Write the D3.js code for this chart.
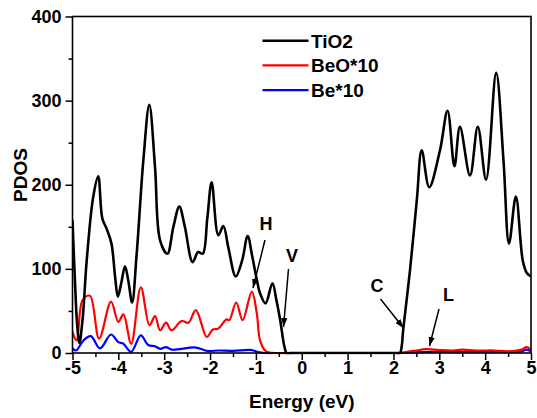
<!DOCTYPE html>
<html><head><meta charset="utf-8">
<script src="https://cdn.jsdelivr.net/npm/d3@7"></script>
<style>body{margin:0;background:#fff}svg{display:block}text{font-family:"Liberation Sans",Arial,sans-serif;font-weight:bold}</style>
</head><body><svg id="c" width="537" height="418"></svg>
<script>
// TiO2 PDOS
const eTiO2 = [-5,-4.95,-4.9,-4.85,-4.78,-4.69,-4.55,-4.44,-4.35,-4.25,-4.15,-4.07,-4.01,-3.93,-3.855,-3.78,-3.70,-3.60,-3.455,-3.325,-3.2,-3.09,-2.93,-2.8,-2.67,-2.55,-2.38,-2.26,-2.16,-2.06,-1.965,-1.82,-1.71,-1.6,-1.44,-1.3,-1.18,-1.08,-0.98,-0.91,-0.79,-0.64,-0.55,-0.47,-0.38,-0.33,-0.25,0,1,2,2.1,2.143,2.18,2.215,2.36,2.51,2.616,2.78,3.015,3.18,3.33,3.45,3.67,3.84,4.02,4.24,4.40,4.52,4.67,4.82,4.91,5];
const vTiO2 = [158,90,35,12,40,110,185,210,160,147,130,90,67,85,103,85,60,118,229,295,221,134,118,150,174,150,108,120,118,160,203,140,151,125,91,110,139,115,87,71,59,83,62,39,8,0,0,0,0,0,0,0,8,29,98,182,241,197,241,288,222,269,211,269,206,333,229,130,186,110,95,91];
// BeO*10 PDOS
const eBeO = [-5,-4.91,-4.78,-4.62,-4.42,-4.16,-4.0,-3.89,-3.72,-3.51,-3.32,-3.20,-3.09,-2.96,-2.84,-2.62,-2.47,-2.31,-2.07,-1.94,-1.82,-1.64,-1.58,-1.43,-1.29,-1.09,-0.98,-0.91,-0.80,-0.7,-0.6,0,1,2,2.143,2.3,2.5,2.7,3.0,3.3,3.5,3.8,4.2,4.5,4.8,4.9,5];
const vBeO = [25,15,63,68,17,61,37,46,11,78,33,44,27,36,27,38,36,51,19,28,29,40,39,60,39,73,47,15,3,0.5,0,0,0,0,0,1.5,3,4.5,3.5,3,4,3,3,2,4,7,4];
// Be*10 PDOS
const eBe = [-5,-4.92,-4.76,-4.60,-4.40,-4.16,-4.0,-3.89,-3.72,-3.51,-3.35,-3.20,-3.09,-2.96,-2.84,-2.31,-2.07,-1.8,-1.5,-1.09,-0.95,-0.8,-0.6,0,1,2,2.143,2.5,3,4,4.8,4.9,5];
const vBe = [5.5,3,15,20,5.5,22,13,11,1.5,21,9.5,8,5,7,4,6.5,2.5,3,2.5,3.5,1,0,0,0,0,0,0,1,1.5,1.5,2,4,2];

const xTicks = [-5,-4,-3,-2,-1,0,1,2,3,4,5];
const yTicks = [0,100,200,300,400];
const seriesNames = ["TiO2","BeO*10","Be*10"];
const seriesColors = ["#000000","#ff0000","#0000ff"];
const annotations = [
  {label:"H", tx:266, ty:224, x1:265, y1:240, x2:253, y2:288},
  {label:"V", tx:292, ty:256, x1:288.5, y1:269, x2:283.5, y2:327},
  {label:"C", tx:377, ty:286, x1:380.5, y1:299, x2:403.5, y2:328},
  {label:"L", tx:448.5, ty:295, x1:439, y1:309, x2:429.5, y2:346}
];

const svg = d3.select("#c");
const L=72.5, R=531, T=16.5, B=353;
const x = d3.scaleLinear().domain([-5,5]).range([L,R]);
const y = d3.scaleLinear().domain([0,400]).range([B,T]);

svg.append("defs").append("clipPath").attr("id","clip").append("rect")
  .attr("x",L).attr("y",T).attr("width",R-L).attr("height",B-T+1.5);
const mk = svg.select("defs").append("marker").attr("id","arr")
  .attr("viewBox","0 0 10 10").attr("refX",10).attr("refY",5)
  .attr("markerWidth",9).attr("markerHeight",9).attr("markerUnits","userSpaceOnUse")
  .attr("orient","auto");
mk.append("path").attr("d","M0,1.5 L10,5 L0,8.5 Z").attr("fill","#000");

const line = d3.line().x(d=>x(d[0])).y(d=>Math.min(B,y(d[1]))).curve(d3.curveCatmullRom.alpha(0.5));
const data = [d3.zip(eTiO2,vTiO2), d3.zip(eBeO,vBeO), d3.zip(eBe,vBe)];
const g = svg.append("g").attr("clip-path","url(#clip)");
[2,1,0].forEach(i=>{
  g.append("path").attr("d",line(data[i])).attr("fill","none")
   .attr("stroke",seriesColors[i]).attr("stroke-width", i===0?2.6:2.2).attr("stroke-linejoin","round");
});

// axes
const xa = svg.append("g").attr("transform",`translate(0,${B})`)
  .call(d3.axisBottom(x).tickValues(xTicks).tickSize(7).tickFormat(d3.format("d")));
const xm = svg.append("g").attr("transform",`translate(0,${B})`)
  .call(d3.axisBottom(x).tickValues(d3.range(-4.5,5,1)).tickSize(4).tickFormat(""));
const ya = svg.append("g").attr("transform",`translate(${L},0)`)
  .call(d3.axisLeft(y).tickValues(yTicks).tickSize(7));
const ym = svg.append("g").attr("transform",`translate(${L},0)`)
  .call(d3.axisLeft(y).tickValues([50,150,250,350]).tickSize(4).tickFormat(""));
[xa,xm,ya,ym].forEach(a=>{a.select(".domain").remove();a.selectAll("line").attr("stroke","#000").attr("stroke-width",1.5);});
xa.selectAll("text").attr("font-size",18).attr("fill","#000").attr("dy",null).attr("y",21)
  .text(d=>d<0?"-"+Math.abs(d):d);
ya.selectAll("text").attr("font-size",18).attr("fill","#000").attr("x",-11);
svg.append("rect").attr("x",L).attr("y",T).attr("width",R-L).attr("height",B-T)
  .attr("fill","none").attr("stroke","#000").attr("stroke-width",1.6);

svg.append("text").attr("x",(L+R)/2).attr("y",408).attr("text-anchor","middle").attr("font-size",19).text("Energy (eV)");
svg.append("text").attr("transform","translate(27,175) rotate(-90)").attr("text-anchor","middle").attr("font-size",19).text("PDOS");

// legend
seriesNames.forEach((n,i)=>{
  const yy = 40.7 + i*24.7;
  svg.append("line").attr("x1",262.5).attr("x2",308.5).attr("y1",yy).attr("y2",yy)
    .attr("stroke",seriesColors[i]).attr("stroke-width",2.4);
  svg.append("text").attr("x",311).attr("y",yy).attr("dy","0.36em").attr("font-size",19).text(n);
});

// annotations
annotations.forEach(a=>{
  svg.append("text").attr("x",a.tx).attr("y",a.ty).attr("dy","0.36em").attr("text-anchor","middle").attr("font-size",18).text(a.label);
  svg.append("line").attr("x1",a.x1).attr("y1",a.y1).attr("x2",a.x2).attr("y2",a.y2)
    .attr("stroke","#000").attr("stroke-width",1.5).attr("marker-end","url(#arr)");
});
</script></body></html>
